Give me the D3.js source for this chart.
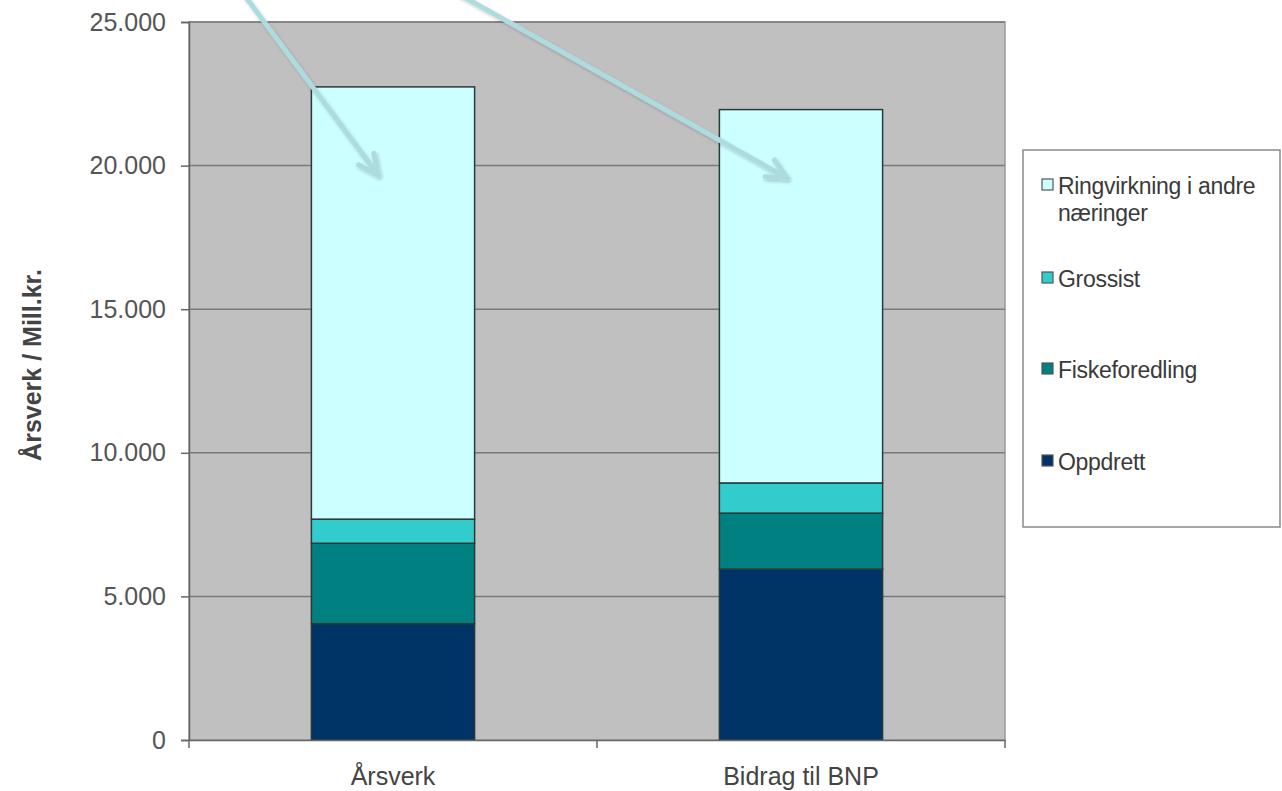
<!DOCTYPE html>
<html>
<head>
<meta charset="utf-8">
<script src="https://cdn.jsdelivr.net/npm/d3@7"></script>
<style>
  body { margin: 0; background: #fff; }
  svg { display: block; font-family: 'Liberation Sans', Arial, sans-serif; }
</style>
</head>
<body>
<svg></svg>
<script>
let categories = ['Årsverk', 'Bidrag til BNP'];
let seriesNames = ['Oppdrett', 'Fiskeforedling', 'Grossist', 'Ringvirkning i andre næringer'];
let oppdrett = [4050, 5950];
let fiskeforedling = [2800, 1950];
let grossist = [840, 1050];
let ringvirkning = [15050, 13000];
let yTicks = [0, 5000, 10000, 15000, 20000, 25000];

let colors = ['#003366', '#008080', '#33cccc', '#ccffff'];

let width = 1282;
let height = 791;
let plotLeft = 189, plotRight = 1005, plotTop = 22, plotBottom = 740;

let svg = d3.select('svg')
            .attr('width', width)
            .attr('height', height);

let rows = categories.map((c, i) => ({
    cat: c,
    'Oppdrett': oppdrett[i],
    'Fiskeforedling': fiskeforedling[i],
    'Grossist': grossist[i],
    'Ringvirkning i andre næringer': ringvirkning[i]
}));

let stacked = d3.stack().keys(seriesNames)(rows);

let xScale = d3.scaleBand()
               .domain(categories)
               .range([plotLeft, plotRight]);

let yScale = d3.scaleLinear()
               .domain([0, 25000])
               .range([plotBottom, plotTop]);

// plot area
svg.append('rect')
   .attr('x', plotLeft)
   .attr('y', plotTop)
   .attr('width', plotRight - plotLeft)
   .attr('height', plotBottom - plotTop)
   .attr('fill', '#c0c0c0')
   .attr('stroke', '#9a9a9a')
   .attr('stroke-width', 1.5);

// gridlines
svg.append('g')
   .selectAll('line')
   .data(yTicks.filter(d => d > 0))
   .enter()
   .append('line')
   .attr('x1', plotLeft)
   .attr('x2', plotRight)
   .attr('y1', d => yScale(d))
   .attr('y2', d => yScale(d))
   .attr('stroke', '#7a7a7a')
   .attr('stroke-width', 1.5);

// bars
let barW = xScale.bandwidth() * 0.4;
svg.append('g')
   .selectAll('g')
   .data(stacked)
   .enter()
   .append('g')
   .attr('fill', (d, i) => colors[i])
   .selectAll('rect')
   .data(d => d)
   .enter()
   .append('rect')
   .attr('x', d => xScale(d.data.cat) + (xScale.bandwidth() - barW) / 2)
   .attr('y', d => yScale(d[1]))
   .attr('width', barW)
   .attr('height', d => yScale(d[0]) - yScale(d[1]))
   .attr('stroke', '#2a3a3a')
   .attr('stroke-width', 1.5);

// y axis
let yAxis = d3.axisLeft(yScale)
              .tickValues(yTicks)
              .tickSize(8)
              .tickPadding(15)
              .tickFormat(d => d3.format(',')(d).replace(/,/g, '.'));

let yg = svg.append('g')
            .attr('transform', `translate(${plotLeft}, 0)`)
            .call(yAxis);
yg.selectAll('text').attr('font-size', 25).attr('fill', '#555').attr('font-family', null);
yg.selectAll('line, path').attr('stroke', '#666').attr('stroke-width', 1.5);

// x axis
let xAxis = d3.axisBottom(xScale)
              .tickSize(0)
              .tickPadding(27);

let xg = svg.append('g')
            .attr('transform', `translate(0, ${plotBottom})`)
            .call(xAxis);
xg.select('.domain').attr('stroke', '#666').attr('stroke-width', 1.5);
xg.selectAll('text').attr('font-size', 25).attr('fill', '#444').attr('font-family', null);

// category separators
svg.append('g')
   .selectAll('line')
   .data([plotLeft, xScale(categories[1]), plotRight])
   .enter()
   .append('line')
   .attr('x1', d => d)
   .attr('x2', d => d)
   .attr('y1', plotBottom)
   .attr('y2', plotBottom + 8)
   .attr('stroke', '#666')
   .attr('stroke-width', 1.5);

// y axis title
svg.append('text')
   .attr('transform', `translate(41, 365) rotate(-90)`)
   .attr('text-anchor', 'middle')
   .attr('font-size', 25)
   .attr('font-weight', 'bold')
   .attr('fill', '#444')
   .text('Årsverk / Mill.kr.');

// legend
let legend = svg.append('g').attr('id', 'legend');
legend.append('rect')
      .attr('x', 1023)
      .attr('y', 150)
      .attr('width', 257)
      .attr('height', 377)
      .attr('fill', '#fff')
      .attr('stroke', '#8a8a8a')
      .attr('stroke-width', 1.5);

let legendItems = [
    { name: seriesNames[3], lines: ['Ringvirkning i andre', 'næringer'], color: colors[3], y: 194 },
    { name: seriesNames[2], lines: ['Grossist'], color: colors[2], y: 287 },
    { name: seriesNames[1], lines: ['Fiskeforedling'], color: colors[1], y: 378 },
    { name: seriesNames[0], lines: ['Oppdrett'], color: colors[0], y: 470 }
];

let li = legend.selectAll('g.item')
               .data(legendItems)
               .enter()
               .append('g')
               .attr('class', 'item');

li.append('rect')
  .attr('x', 1042)
  .attr('y', d => d.y - 15)
  .attr('width', 11)
  .attr('height', 11)
  .attr('fill', d => d.color)
  .attr('stroke', '#555')
  .attr('stroke-width', 1.2);

li.append('text')
  .attr('x', 1057)
  .attr('y', d => d.y)
  .attr('font-size', 23)
  .attr('letter-spacing', -0.3)
  .attr('fill', '#3a3a3a')
  .selectAll('tspan')
  .data(d => d.lines)
  .enter()
  .append('tspan')
  .attr('x', 1058)
  .attr('dy', (d, i) => i === 0 ? 0 : 27)
  .text(d => d);

// annotation arrows
let defs = svg.append('defs');
defs.append('filter')
    .attr('id', 'shadow')
    .append('feDropShadow')
    .attr('dx', 1.5)
    .attr('dy', 2)
    .attr('stdDeviation', 1.5)
    .attr('flood-color', '#000')
    .attr('flood-opacity', 0.2);

let arrows = [
    { from: [242, -8], to: [378, 175] },
    { from: [455, -8], to: [787, 178] }
];

let ag = svg.append('g')
            .attr('filter', 'url(#shadow)')
            .attr('stroke', '#addbdf')
            .attr('stroke-width', 5)
            .attr('fill', 'none')
            .attr('stroke-linecap', 'round')
            .attr('stroke-linejoin', 'round');

arrows.forEach(a => {
    let dx = a.to[0] - a.from[0], dy = a.to[1] - a.from[1];
    let len = Math.hypot(dx, dy);
    let ux = dx / len, uy = dy / len;
    let head = 22, spread = 0.45;
    let p1 = [a.to[0] - head * (ux * Math.cos(spread) - uy * Math.sin(spread)),
              a.to[1] - head * (uy * Math.cos(spread) + ux * Math.sin(spread))];
    let p2 = [a.to[0] - head * (ux * Math.cos(-spread) - uy * Math.sin(-spread)),
              a.to[1] - head * (uy * Math.cos(-spread) + ux * Math.sin(-spread))];
    ag.append('path')
      .attr('d', `M${a.from[0]},${a.from[1]}L${a.to[0]},${a.to[1]}`);
    ag.append('path')
      .attr('d', `M${p1[0]},${p1[1]}L${a.to[0]},${a.to[1]}L${p2[0]},${p2[1]}`);
});
</script>
</body>
</html>
